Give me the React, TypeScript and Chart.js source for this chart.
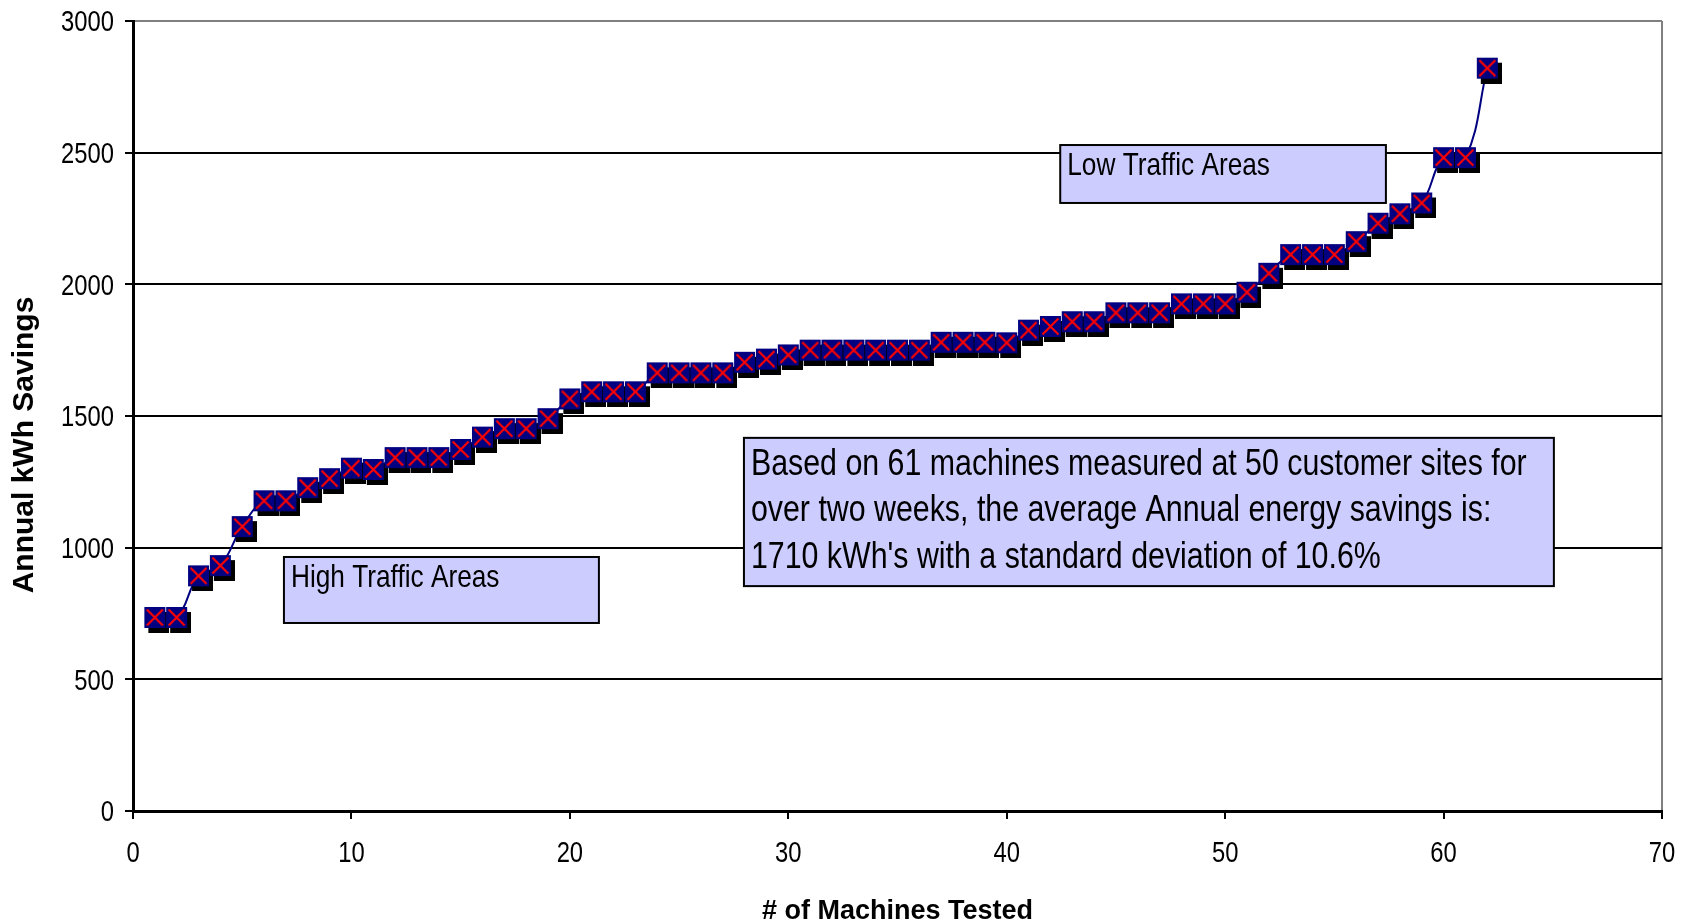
import React, { useEffect, useRef } from "react";
import { Chart, registerables } from "chart.js";

Chart.register(...registerables);

// ---- data ----
const machineNumbers = [
  1, 2, 3, 4, 5, 6, 7, 8, 9, 10, 11, 12, 13, 14, 15, 16, 17, 18, 19, 20, 21,
  22, 23, 24, 25, 26, 27, 28, 29, 30, 31, 32, 33, 34, 35, 36, 37, 38, 39, 40,
  41, 42, 43, 44, 45, 46, 47, 48, 49, 50, 51, 52, 53, 54, 55, 56, 57, 58, 59,
  60, 61, 62,
];
const kwhSavings = [
  735, 735, 893, 932, 1080, 1178, 1178, 1228, 1262, 1302, 1297, 1342, 1342,
  1342, 1373, 1420, 1452, 1452, 1490, 1565, 1592, 1592, 1592, 1664, 1664, 1664,
  1664, 1704, 1716, 1732, 1750, 1750, 1750, 1750, 1750, 1750, 1780, 1780, 1780,
  1778, 1826, 1840, 1858, 1858, 1892, 1892, 1892, 1926, 1926, 1926, 1970, 2042,
  2113, 2113, 2113, 2162, 2232, 2268, 2309, 2481, 2481, 2821,
];
const xTickValues = [0, 10, 20, 30, 40, 50, 60, 70];
const yTickValues = [0, 500, 1000, 1500, 2000, 2500, 3000];
const xAxisTitle = "# of Machines Tested";
const yAxisTitle = "Annual kWh Savings";
const lowTrafficText = ["Low Traffic Areas"];
const highTrafficText = ["High Traffic Areas"];
const summaryText = [
  "Based on 61 machines measured at 50 customer sites for",
  "over two weeks, the average Annual energy savings is:",
  "1710 kWh's with a standard deviation of 10.6%",
];
// annotation boxes, placed in data units (x: machine #, y: kWh)
const lowTrafficBox = { x1: 42.45, x2: 57.36, yTop: 2529, yBottom: 2309 };
const highTrafficBox = { x1: 6.91, x2: 21.33, yTop: 964.6, yBottom: 714 };
const summaryBox = { x1: 27.97, x2: 65.05, yTop: 1417, yBottom: 854 };

const SANS = "'Liberation Sans', Arial, sans-serif";
const NARROW_SCALE = 0.82;

function narrowText(
  ctx: CanvasRenderingContext2D,
  text: string,
  x: number,
  y: number,
  size: number,
  align: CanvasTextAlign
) {
  ctx.save();
  ctx.translate(x, y);
  ctx.scale(NARROW_SCALE, 1);
  ctx.font = `${size}px ${SANS}`;
  ctx.textAlign = align;
  ctx.textBaseline = "alphabetic";
  ctx.fillStyle = "#000";
  ctx.fillText(text, 0, 0);
  ctx.restore();
}

function makeMarker(): HTMLCanvasElement {
  const size = 21;
  const sx = 4;
  const sy = 5;
  const c = document.createElement("canvas");
  c.width = size + 2 * sx;
  c.height = size + 2 * sy;
  const g = c.getContext("2d")!;
  g.fillStyle = "#000000";
  g.fillRect(2 * sx, 2 * sy, size, size);
  g.fillStyle = "#000080";
  g.fillRect(sx, sy, size, size);
  g.strokeStyle = "#ff0000";
  g.lineWidth = 2.2;
  const cx = sx + size / 2;
  const cy = sy + size / 2;
  const h = 8;
  g.beginPath();
  g.moveTo(cx - h, cy - h);
  g.lineTo(cx + h, cy + h);
  g.moveTo(cx + h, cy - h);
  g.lineTo(cx - h, cy + h);
  g.stroke();
  return c;
}

type Box = { x1: number; x2: number; yTop: number; yBottom: number };

function drawBox(
  chart: any,
  box: Box,
  lines: string[],
  fontSize: number,
  firstBaseline: number,
  lineGap: number
) {
  const ctx = chart.ctx as CanvasRenderingContext2D;
  const xs = chart.scales.x;
  const ys = chart.scales.y;
  const left = xs.getPixelForValue(box.x1);
  const right = xs.getPixelForValue(box.x2);
  const top = ys.getPixelForValue(box.yTop);
  const bottom = ys.getPixelForValue(box.yBottom);
  ctx.save();
  ctx.fillStyle = "#ccccff";
  ctx.fillRect(left, top, right - left, bottom - top);
  ctx.strokeStyle = "#000";
  ctx.lineWidth = 2;
  ctx.strokeRect(left, top, right - left, bottom - top);
  ctx.restore();
  lines.forEach((ln, i) => {
    narrowText(ctx, ln, left + 7, top + firstBaseline + i * lineGap, fontSize, "left");
  });
}

const overlayPlugin = {
  id: "overlay",
  afterDatasetsDraw(chart: any) {
    drawBox(chart, lowTrafficBox, lowTrafficText, 32, 30, 0);
    drawBox(chart, highTrafficBox, highTrafficText, 32, 30, 0);
    drawBox(chart, summaryBox, summaryText, 37, 37, 46.5);
  },
  afterDraw(chart: any) {
    const ctx = chart.ctx as CanvasRenderingContext2D;
    const a = chart.chartArea;
    const xs = chart.scales.x;
    const ys = chart.scales.y;
    // tick labels
    xTickValues.forEach((v) => {
      narrowText(ctx, String(v), xs.getPixelForValue(v), a.bottom + 51, 29, "center");
    });
    yTickValues.forEach((v) => {
      narrowText(ctx, String(v), a.left - 19, ys.getPixelForValue(v) + 10.4, 29, "right");
    });
    // axis titles
    ctx.save();
    ctx.fillStyle = "#000";
    ctx.textAlign = "center";
    ctx.textBaseline = "middle";
    ctx.font = `bold 27px ${SANS}`;
    ctx.fillText(xAxisTitle, (a.left + a.right) / 2, a.bottom + 101);
    ctx.font = `bold 30px ${SANS}`;
    ctx.translate(25, (a.top + a.bottom) / 2 + 29);
    ctx.rotate(-Math.PI / 2);
    ctx.fillText(yAxisTitle, 0, 0);
    ctx.restore();
  },
};

export default function App() {
  const ref = useRef<HTMLCanvasElement | null>(null);
  useEffect(() => {
    document.body.style.margin = "0";
    const canvas = ref.current!;
    const marker = makeMarker();
    const chart = new Chart(canvas, {
      type: "line",
      data: {
        datasets: [
          {
            data: machineNumbers.map((m, i) => ({ x: m, y: kwhSavings[i] })),
            borderColor: "#000080",
            borderWidth: 2,
            tension: 0.4,
            pointStyle: marker as any,
            pointRadius: 12,
            pointHoverRadius: 12,
            fill: false,
          },
        ],
      },
      options: {
        animation: false,
        responsive: false,
        devicePixelRatio: 1,
        layout: { padding: { left: 0, right: 28, top: 21, bottom: 0 } },
        plugins: {
          legend: { display: false },
          tooltip: { enabled: false },
        },
        scales: {
          x: {
            type: "linear",
            min: 0,
            max: 70,
            afterFit: (s: any) => {
              s.height = 112;
            },
            afterBuildTicks: (s: any) => {
              s.ticks = xTickValues.map((v) => ({ value: v }));
            },
            ticks: { display: false },
            grid: {
              color: (c: any) => (c.tick && c.tick.value === 70 ? "#808080" : "rgba(0,0,0,0)"),
              lineWidth: 2,
              tickColor: "#000",
              tickLength: 8,
              drawTicks: true,
            },
            border: { display: true, color: "#000", width: 3 },
          },
          y: {
            type: "linear",
            min: 0,
            max: 3000,
            afterFit: (s: any) => {
              s.width = 133;
            },
            afterBuildTicks: (s: any) => {
              s.ticks = yTickValues.map((v) => ({ value: v }));
            },
            ticks: { display: false },
            grid: {
              color: (c: any) => (c.tick && c.tick.value === 3000 ? "#808080" : "#000"),
              lineWidth: 2,
              tickColor: "#000",
              tickLength: 8,
              drawTicks: true,
            },
            border: { display: true, color: "#000", width: 3 },
          },
        },
      },
      plugins: [overlayPlugin],
    });
    return () => chart.destroy();
  }, []);
  return (
    <div style={{ width: 1690, height: 923, background: "#fff" }}>
      <canvas ref={ref} width={1690} height={923} style={{ width: 1690, height: 923, display: "block" }} />
    </div>
  );
}
